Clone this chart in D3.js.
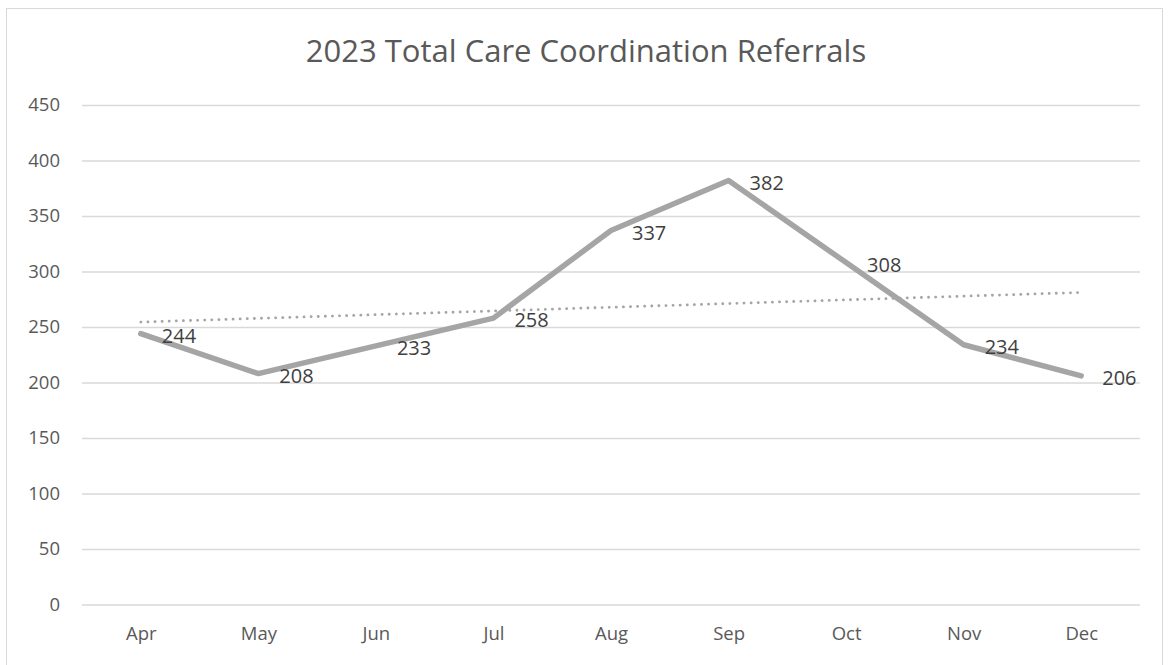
<!DOCTYPE html>
<html>
<head>
<meta charset="utf-8">
<script src="https://cdn.jsdelivr.net/npm/d3@7"></script>
<style>
  body { margin: 0; background: #fff; }
  svg { font-family: "Open Sans", Lato, sans-serif; }
</style>
</head>
<body>
<svg id="chart" width="1168" height="665"></svg>
<script>
const months = ['Apr', 'May', 'Jun', 'Jul', 'Aug', 'Sep', 'Oct', 'Nov', 'Dec'];
const referrals = [244, 208, 233, 258, 337, 382, 308, 234, 206];
const yTicks = [0, 50, 100, 150, 200, 250, 300, 350, 400, 450];
const chartTitle = '2023 Total Care Coordination Referrals';

const svg = d3.select('#chart');
const plot = { left: 82, right: 1140, top: 105, bottom: 604.5 };

// outer border of the chart area
svg.append('rect')
  .attr('x', 6.5).attr('y', 8.5)
  .attr('width', 1156).attr('height', 670)
  .attr('fill', '#fff')
  .attr('stroke', '#d9d9d9');

svg.append('text')
  .attr('x', 586).attr('y', 62)
  .attr('text-anchor', 'middle')
  .attr('font-size', 31)
  .attr('fill', '#595959')
  .text(chartTitle);

const x = d3.scalePoint()
  .domain(months)
  .range([plot.left, plot.right])
  .padding(0.5);

const y = d3.scaleLinear()
  .domain([0, 450])
  .range([plot.bottom, plot.top]);

// gridlines + y labels
const yAxis = svg.append('g')
  .attr('transform', 'translate(' + plot.left + ',0)')
  .call(d3.axisLeft(y).tickValues(yTicks).tickSize(-(plot.right - plot.left)).tickPadding(22));
yAxis.select('.domain').remove();
yAxis.selectAll('line').attr('stroke', '#d9d9d9').attr('stroke-width', 1.5);
yAxis.selectAll('text').attr('font-size', 18.5).attr('fill', '#595959').attr('font-family', '"Open Sans", sans-serif');

// x labels
const xAxis = svg.append('g')
  .attr('transform', 'translate(0,' + plot.bottom + ')')
  .call(d3.axisBottom(x).tickSize(0).tickPadding(22));
xAxis.select('.domain').remove();
xAxis.selectAll('text').attr('font-size', 18.5).attr('fill', '#595959').attr('font-family', '"Open Sans", sans-serif');

// linear trendline (least squares over the series)
const idx = referrals.map((d, i) => i);
const mx = d3.mean(idx), my = d3.mean(referrals);
const slope = d3.sum(idx, i => (i - mx) * (referrals[i] - my)) / d3.sum(idx, i => (i - mx) * (i - mx));
const icpt = my - slope * mx;
const trend = months.map((m, i) => ({ m, v: icpt + slope * i }));

svg.append('path')
  .datum(trend)
  .attr('fill', 'none')
  .attr('stroke', '#a5a5a5')
  .attr('stroke-width', 2.8)
  .attr('stroke-linecap', 'round')
  .attr('stroke-dasharray', '0.1,7')
  .attr('d', d3.line().x(d => x(d.m)).y(d => y(d.v)));

const data = months.map((m, i) => ({ m, v: referrals[i] }));

svg.append('path')
  .datum(data)
  .attr('fill', 'none')
  .attr('stroke', '#a5a5a5')
  .attr('stroke-width', 5.5)
  .attr('stroke-linejoin', 'round')
  .attr('stroke-linecap', 'round')
  .attr('d', d3.line().x(d => x(d.m)).y(d => y(d.v)));

svg.selectAll('.lbl')
  .data(data)
  .enter().append('text')
  .attr('class', 'lbl')
  .attr('x', d => x(d.m) + 21)
  .attr('y', d => y(d.v) + 2)
  .attr('dy', '0.36em')
  .attr('font-size', 20)
  .attr('fill', '#404040')
  .text(d => d.v);
</script>
</body>
</html>
